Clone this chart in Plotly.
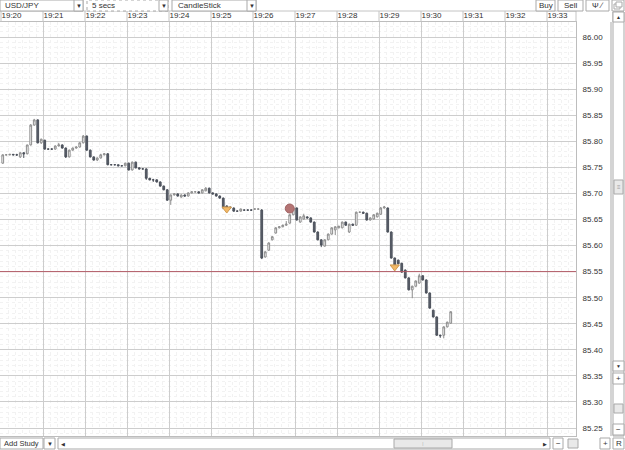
import plotly.graph_objects as go
import pandas as pd

W, H = 625, 450

# ---------------- data (5-second candles, USD/JPY) ----------------
start_time = "2010-11-01 19:20:02.5"
opens = [85.758, 85.774, 85.774, 85.775, 85.774, 85.770, 85.778, 85.776, 85.793, 85.831, 85.841, 85.797,
         85.802, 85.785, 85.785, 85.785, 85.791, 85.793, 85.787, 85.770, 85.783, 85.787, 85.789, 85.797,
         85.810, 85.783, 85.770, 85.764, 85.768, 85.774, 85.776, 85.755, 85.755, 85.755, 85.753, 85.753,
         85.758, 85.745, 85.760, 85.749, 85.747, 85.747, 85.729, 85.726, 85.726, 85.722, 85.714, 85.707,
         85.687, 85.697, 85.699, 85.693, 85.697, 85.695, 85.701, 85.703, 85.703, 85.701, 85.705, 85.710,
         85.701, 85.699, 85.695, 85.691, 85.676, 85.672, 85.672, 85.666, 85.666, 85.668, 85.668, 85.668,
         85.670, 85.670, 85.668, 85.578, 85.591, 85.611, 85.624, 85.634, 85.636, 85.639, 85.643, 85.659,
         85.672, 85.645, 85.651, 85.655, 85.653, 85.645, 85.626, 85.611, 85.599, 85.611, 85.622, 85.630,
         85.634, 85.634, 85.645, 85.626, 85.641, 85.639, 85.664, 85.664, 85.662, 85.649, 85.651, 85.655,
         85.660, 85.672, 85.672, 85.626, 85.576, 85.572, 85.566, 85.553, 85.538, 85.515, 85.522, 85.528,
         85.542, 85.534, 85.509, 85.476, 85.463, 85.428, 85.428, 85.444, 85.451]
highs = [85.775, 85.775, 85.775, 85.775, 85.776, 85.779, 85.779, 85.793, 85.833, 85.843, 85.842, 85.805,
         85.803, 85.786, 85.786, 85.792, 85.797, 85.794, 85.788, 85.784, 85.788, 85.790, 85.798, 85.812,
         85.811, 85.784, 85.771, 85.769, 85.776, 85.777, 85.777, 85.756, 85.756, 85.755, 85.754, 85.759,
         85.759, 85.761, 85.761, 85.750, 85.748, 85.748, 85.730, 85.728, 85.727, 85.723, 85.715, 85.708,
         85.698, 85.700, 85.700, 85.698, 85.698, 85.702, 85.704, 85.704, 85.704, 85.708, 85.712, 85.711,
         85.702, 85.700, 85.696, 85.692, 85.677, 85.675, 85.673, 85.667, 85.671, 85.669, 85.669, 85.669,
         85.671, 85.671, 85.670, 85.589, 85.606, 85.618, 85.635, 85.637, 85.640, 85.647, 85.660, 85.674,
         85.673, 85.656, 85.661, 85.656, 85.654, 85.646, 85.627, 85.612, 85.612, 85.623, 85.635, 85.637,
         85.638, 85.646, 85.646, 85.642, 85.642, 85.665, 85.665, 85.665, 85.663, 85.654, 85.660, 85.663,
         85.674, 85.676, 85.673, 85.627, 85.577, 85.573, 85.567, 85.554, 85.539, 85.523, 85.533, 85.546,
         85.543, 85.535, 85.510, 85.477, 85.464, 85.429, 85.445, 85.454, 85.474]
lows = [85.757, 85.773, 85.773, 85.773, 85.772, 85.768, 85.768, 85.775, 85.792, 85.830, 85.796, 85.795,
        85.784, 85.784, 85.784, 85.784, 85.790, 85.786, 85.768, 85.769, 85.782, 85.786, 85.788, 85.796,
        85.782, 85.769, 85.763, 85.762, 85.767, 85.773, 85.754, 85.754, 85.754, 85.752, 85.752, 85.752,
        85.744, 85.744, 85.748, 85.746, 85.746, 85.726, 85.725, 85.722, 85.721, 85.713, 85.706, 85.686,
        85.678, 85.696, 85.694, 85.692, 85.694, 85.694, 85.700, 85.702, 85.700, 85.700, 85.704, 85.700,
        85.698, 85.694, 85.690, 85.671, 85.673, 85.671, 85.665, 85.665, 85.665, 85.667, 85.667, 85.667,
        85.669, 85.669, 85.574, 85.577, 85.590, 85.610, 85.623, 85.633, 85.635, 85.638, 85.642, 85.658,
        85.648, 85.644, 85.650, 85.652, 85.644, 85.625, 85.610, 85.597, 85.598, 85.610, 85.621, 85.620,
        85.633, 85.633, 85.638, 85.624, 85.638, 85.638, 85.663, 85.661, 85.648, 85.648, 85.650, 85.654,
        85.659, 85.671, 85.625, 85.575, 85.562, 85.564, 85.548, 85.537, 85.514, 85.499, 85.521, 85.527,
        85.533, 85.508, 85.479, 85.462, 85.427, 85.423, 85.422, 85.443, 85.450]
closes = [85.774, 85.774, 85.775, 85.774, 85.774, 85.778, 85.776, 85.793, 85.831, 85.841, 85.797, 85.804,
          85.785, 85.785, 85.785, 85.791, 85.793, 85.787, 85.770, 85.783, 85.787, 85.789, 85.797, 85.810,
          85.783, 85.770, 85.764, 85.768, 85.774, 85.776, 85.755, 85.755, 85.755, 85.753, 85.753, 85.758,
          85.745, 85.760, 85.749, 85.747, 85.747, 85.729, 85.726, 85.726, 85.722, 85.714, 85.707, 85.687,
          85.697, 85.699, 85.695, 85.697, 85.695, 85.701, 85.703, 85.703, 85.701, 85.707, 85.710, 85.701,
          85.699, 85.695, 85.691, 85.672, 85.674, 85.674, 85.666, 85.666, 85.670, 85.668, 85.668, 85.668,
          85.670, 85.670, 85.576, 85.588, 85.605, 85.617, 85.634, 85.636, 85.639, 85.641, 85.659, 85.672,
          85.649, 85.655, 85.657, 85.653, 85.645, 85.626, 85.611, 85.601, 85.611, 85.622, 85.634, 85.636,
          85.637, 85.645, 85.639, 85.641, 85.639, 85.664, 85.664, 85.662, 85.649, 85.653, 85.659, 85.662,
          85.672, 85.674, 85.626, 85.576, 85.563, 85.565, 85.549, 85.538, 85.515, 85.522, 85.532, 85.542,
          85.534, 85.509, 85.480, 85.463, 85.428, 85.427, 85.444, 85.453, 85.473]

sell_signal_times = ["2010-11-01 19:25:22.5", "2010-11-01 19:29:22.5"]
sell_signal_prices = [85.670, 85.559]
buy_signal_times = ["2010-11-01 19:26:52.5"]
buy_signal_prices = [85.671]

level_price = 85.55
price_range = [85.2347, 86.0288]
symbol_label = "USD/JPY"
interval_label = "5 secs"
chart_type_label = "CandleStick"

times = pd.date_range(start_time, periods=len(closes), freq="5s")

# ---------------- geometry helpers (pixels -> paper) ----------------
def X(p):
    return p / W

def Y(p):
    return 1 - p / H

PLOT_L, PLOT_R, PLOT_T, PLOT_B = 0, 576, 22, 436
t_origin = pd.Timestamp("2010-11-01 19:20:00")
sec_per_px = 60 / 42
x_left = t_origin + pd.Timedelta(seconds=(PLOT_L - 1) * sec_per_px)
x_right = t_origin + pd.Timedelta(seconds=(PLOT_R - 1) * sec_per_px)

FONT = "Liberation Sans, Arial, sans-serif"
BORDER = "#a9a9a9"
TXT = "#333333"

fig = go.Figure()
fig.add_trace(go.Candlestick(
    x=times, open=opens, high=highs, low=lows, close=closes,
    increasing=dict(line=dict(color="#8c8c8c", width=1), fillcolor="#ffffff"),
    decreasing=dict(line=dict(color="#4b505a", width=1), fillcolor="#5c616c"),
    whiskerwidth=0, showlegend=False, hoverinfo="skip"))

fig.add_trace(go.Scatter(
    x=sell_signal_times, y=sell_signal_prices, mode="markers",
    marker=dict(symbol="triangle-down", size=8, color="#f2b866",
                line=dict(color="#d09a50", width=1)),
    showlegend=False, hoverinfo="skip"))
fig.add_trace(go.Scatter(
    x=buy_signal_times, y=buy_signal_prices, mode="markers",
    marker=dict(symbol="circle", size=9, color="#b47474",
                line=dict(color="#a06464", width=1)),
    showlegend=False, hoverinfo="skip"))

shapes = []
annotations = []

def rect(x0, y0, x1, y1, fill="#ffffff", line=BORDER, dash="solid", layer="above"):
    shapes.append(dict(type="rect", xref="paper", yref="paper",
                       x0=X(x0), x1=X(x1), y0=Y(y1), y1=Y(y0),
                       fillcolor=fill, line=dict(color=line, width=1, dash=dash), layer=layer))

def text(x, y, s, size=8, anchor="left", color=TXT):
    annotations.append(dict(xref="paper", yref="paper", x=X(x), y=Y(y), text=s,
                            showarrow=False, xanchor=anchor, yanchor="middle",
                            font=dict(family=FONT, size=size, color=color)))

# horizontal level line
shapes.append(dict(type="line", xref="paper", yref="y", x0=X(PLOT_L), x1=X(PLOT_R),
                   y0=level_price, y1=level_price, line=dict(color="#b35a66", width=1)))

# header separators (minute cells)
minute_marks = pd.date_range("2010-11-01 19:20:00", "2010-11-01 19:33:00", freq="1min")
for m in minute_marks:
    shapes.append(dict(type="line", xref="x", yref="paper", x0=m, x1=m,
                       y0=Y(PLOT_T), y1=Y(11), line=dict(color="#c4c4c4", width=1)))
shapes.append(dict(type="line", xref="paper", yref="paper", x0=X(PLOT_R), x1=X(PLOT_R),
                   y0=Y(PLOT_T), y1=Y(11), line=dict(color="#c4c4c4", width=1)))
shapes.append(dict(type="line", xref="paper", yref="paper", x0=0, x1=X(PLOT_R),
                   y0=Y(11), y1=Y(11), line=dict(color="#c4c4c4", width=1)))

# top toolbar
rect(0, 0, 83, 11)
rect(74, 0, 83, 11)
text(3, 5.5, symbol_label)
text(78.5, 5.5, "▼", size=6, anchor="center")
rect(87, 0, 168, 11, dash="dot")
rect(159, 0, 168, 11)
text(90, 5.5, interval_label)
text(163.5, 5.5, "▼", size=6, anchor="center")
rect(172, 0, 256, 11)
rect(247, 0, 256, 11)
text(176, 5.5, chart_type_label)
text(251.5, 5.5, "▼", size=6, anchor="center")
rect(536, 0, 555, 11)
text(545.5, 5.5, "Buy", anchor="center")
rect(558, 0, 583, 11)
text(570.5, 5.5, "Sell", anchor="center")
rect(586, 0, 609, 11)
text(597.5, 5.5, "Ψ ∕", anchor="center")
rect(612, 0, 624, 11)
rect(614, 4, 620, 9)
rect(616, 2, 622, 7)

# right scrollbar
shapes.append(dict(type="line", xref="paper", yref="paper", x0=X(611), x1=X(611),
                   y0=Y(PLOT_B), y1=Y(PLOT_T), line=dict(color=BORDER, width=1)))
rect(613, 12, 624, 436, fill="#ffffff")
rect(613, 12, 624, 22)
text(618.5, 17, "▲", size=5, anchor="center")
rect(614, 180, 623, 194, fill="#e9e9e9")
text(618.5, 187, "≡", size=6, anchor="center", color="#999999")
rect(613, 361, 624, 371)
text(618.5, 366, "▼", size=5, anchor="center")
rect(613, 373, 624, 384)
text(618.5, 378.5, "+", anchor="center")
rect(614, 404, 623, 413, fill="#e9e9e9")
rect(613, 424, 624, 435)
text(618.5, 429.5, "−", anchor="center")

# bottom bar
rect(0, 438, 43, 449)
text(2, 443.5, "Add Study", size=7.5)
rect(44, 438, 55, 449)
text(49.5, 443.5, "▼", size=6, anchor="center")
rect(58, 438, 550, 449)
text(63, 443.5, "◀", size=5, anchor="center")
rect(394, 439, 452, 448, fill="#e9e9e9")
text(423, 443.5, "⁞", size=6, anchor="center", color="#999999")
text(545, 443.5, "▶", size=5, anchor="center")
rect(553, 438, 563, 449)
text(558, 443.5, "−", anchor="center")
rect(568, 439, 578, 448, fill="#e9e9e9")
rect(600, 438, 610, 449)
text(605, 443.5, "+", anchor="center")
rect(613, 438, 624, 449)
text(618.5, 443.5, "R", anchor="center")

fig.update_layout(
    width=W, height=H, margin=dict(l=0, r=0, t=0, b=0),
    paper_bgcolor="#ffffff", plot_bgcolor="#ffffff",
    font=dict(family=FONT, size=8, color=TXT),
    shapes=shapes, annotations=annotations, hovermode=False,
    xaxis=dict(
        domain=[X(PLOT_L), X(PLOT_R)], range=[x_left, x_right], type="date",
        rangeslider=dict(visible=False), side="top",
        tick0="2010-11-01 19:20:00", dtick=60000, tickformat="%H:%M",
        ticks="", ticklabelposition="outside right",
        tickfont=dict(family=FONT, size=8, color=TXT),
        showgrid=True, gridcolor="#cdcdcd", gridwidth=1,
        minor=dict(dtick=10000, showgrid=True, gridcolor="#f2f2f2", griddash="dot"),
        showline=True, linecolor="#bdbdbd", mirror=True, zeroline=False, fixedrange=True),
    yaxis=dict(
        domain=[Y(PLOT_B), Y(PLOT_T)], range=price_range, side="right",
        tick0=85.0, dtick=0.05, tickformat=".2f", ticks="", ticklabelstandoff=4,
        tickfont=dict(family=FONT, size=8, color=TXT),
        showgrid=True, gridcolor="#cdcdcd", gridwidth=1,
        minor=dict(dtick=0.01, showgrid=True, gridcolor="#f2f2f2", griddash="dot"),
        showline=True, linecolor="#bdbdbd", mirror=True, zeroline=False, fixedrange=True),
)

fig.write_html("out.html")
